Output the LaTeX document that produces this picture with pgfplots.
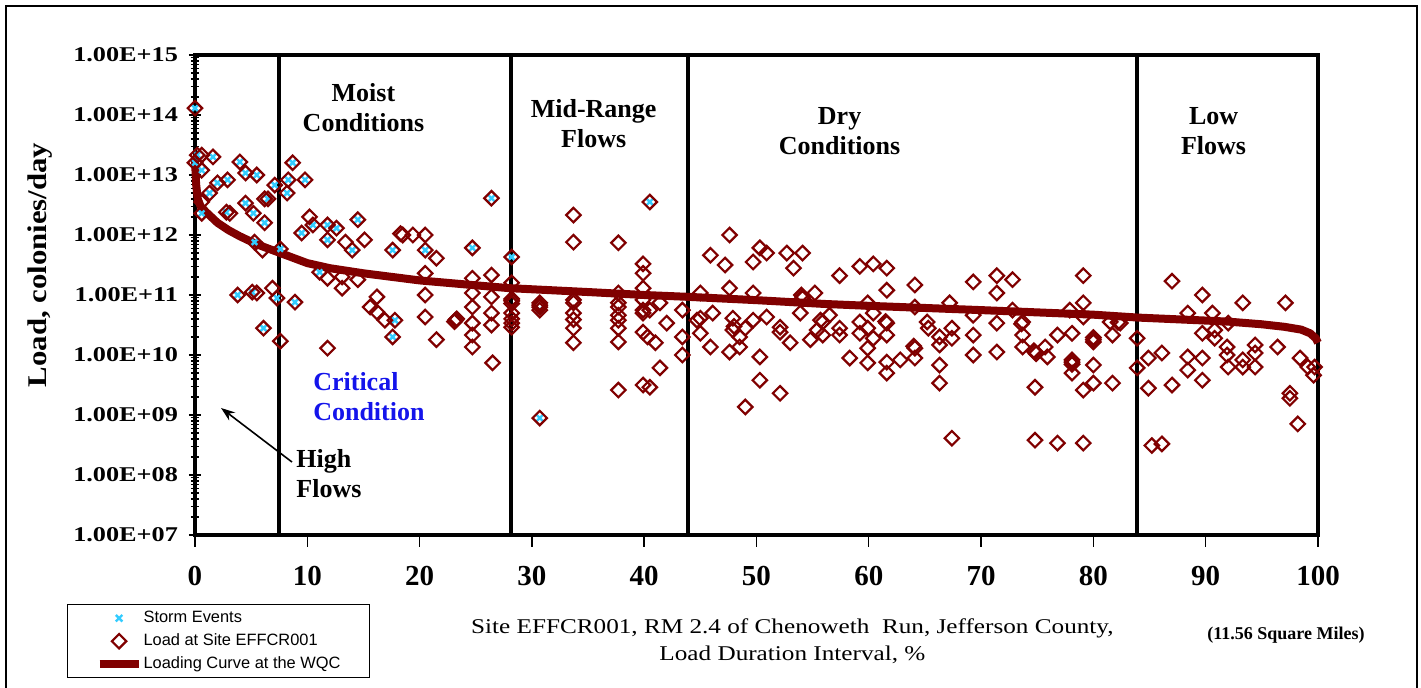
\documentclass[border=0pt]{standalone}
\usepackage{fontspec}
\setmainfont{Liberation Serif}
\newfontfamily\arialfont{Liberation Sans}
\usepackage{graphicx}
\usepackage{pgfplots}
\usepackage{pgfplotstable}
\pgfplotsset{compat=1.18}
\usetikzlibrary{arrows.meta}

\definecolor{maroon}{RGB}{128,0,0}
\definecolor{storm}{RGB}{51,204,255}
\definecolor{critblue}{RGB}{20,20,235}
\newcommand\ytl[1]{\scalebox{1.25}[1]{#1}}
\newcommand\zonefont{\fontsize{13}{15}\selectfont\bfseries}

% storm events (cyan crosses)
\pgfplotstableread{
x y
0 1.3e14
0.2 2.15e13
0 1.6e13
0.6 1.2e13
1.6 2.0e13
4.0 1.65e13
1.3 5.0e12
2.0 7.4e12
2.9 8.3e12
4.5 1.08e13
5.5 1.0e13
0.6 2.3e12
2.8 2.4e12
4.5 3.4e12
5.2 2.3e12
6.2 1.6e12
6.5 4.0e12
7.1 6.8e12
8.2 5.0e12
8.3 8.3e12
8.7 1.6e13
9.8 8.3e12
5.3 7.6e11
7.6 5.85e11
9.5 1.08e12
10.5 1.47e12
11.8 8.3e11
11.8 1.47e12
12.6 1.3e12
14.0 5.6e11
14.5 1.8e12
17.6 5.6e11
20.5 5.6e11
24.7 6.1e11
26.4 4.1e12
28.2 4.3e11
11.1 2.4e11
3.8 1.0e11
5.1 1.12e11
7.3 8.9e10
8.9 7.6e10
6.1 2.8e10
17.8 3.8e10
17.6 2.0e10
30.7 5.6e10
40.5 3.55e12
30.7 8.9e8
}\stormtbl

% load at site EFFCR001 (diamonds)
\pgfplotstableread{
x y
0 1.3e14
0.2 2.15e13
0.6 2.15e13
0 1.6e13
0.6 1.2e13
1.6 2.0e13
4.0 1.65e13
1.3 5.0e12
2.0 7.4e12
2.9 8.3e12
4.5 1.08e13
5.5 1.0e13
0.6 3.55e12
0.6 2.3e12
2.8 2.4e12
3.1 2.3e12
4.5 3.4e12
5.2 2.3e12
6.2 1.6e12
6.5 4.0e12
6.2 4.0e12
7.1 6.8e12
8.2 5.0e12
8.3 8.3e12
8.7 1.6e13
9.8 8.3e12
5.3 7.6e11
6.0 5.6e11
7.6 5.85e11
10.2 2.0e12
9.5 1.08e12
10.5 1.47e12
11.8 8.3e11
11.8 1.47e12
12.6 1.3e12
13.4 7.6e11
14.0 5.6e11
14.5 1.8e12
15.1 8.3e11
17.6 5.6e11
18.5 1.0e12
18.3 1.05e12
19.4 1.0e12
20.5 1.0e12
20.5 5.6e11
21.5 4.1e11
24.7 6.1e11
26.4 4.1e12
28.2 4.3e11
11.1 2.4e11
11.8 1.9e11
13.1 2.0e11
13.1 1.3e11
14.5 1.8e11
16.2 9.3e10
20.5 2.3e11
20.5 1.0e11
24.7 1.9e11
26.4 2.15e11
24.7 1.08e11
3.8 1.0e11
5.1 1.12e11
5.5 1.08e11
6.9 1.3e11
7.3 8.9e10
8.9 7.6e10
6.1 2.8e10
7.6 1.7e10
11.8 1.3e10
15.6 6.3e10
16.2 5.2e10
16.9 3.8e10
17.8 3.8e10
17.6 2.0e10
20.5 4.3e10
21.5 1.8e10
23.2 3.8e10
23.3 4.0e10
23.1 3.6e10
24.7 6.3e10
24.7 3.4e10
24.7 2.15e10
24.7 1.36e10
26.4 9.3e10
26.4 5.0e10
26.4 3.16e10
26.5 7.4e9
28.2 1.6e11
28.2 8.0e10
28.2 8.6e10
28.2 7.2e10
28.2 5.0e10
28.2 4.0e10
28.2 3.4e10
28.2 2.9e10
30.7 6.3e10
30.7 7.4e10
30.7 5.6e10
30.7 6.8e10
33.7 2.15e12
33.7 7.6e11
33.7 8.3e10
33.7 7.4e10
33.7 5.0e10
33.7 3.9e10
33.7 2.8e10
33.7 1.6e10
37.7 7.4e11
37.7 1.08e11
37.7 7.4e10
37.7 6.3e10
37.7 4.6e10
37.7 3.8e10
37.7 2.8e10
37.7 1.65e10
37.7 2.6e9
40.5 3.55e12
39.9 3.3e11
39.9 2.3e11
39.9 1.3e11
39.9 8.3e10
39.9 5.6e10
39.9 5.0e10
40.5 5.6e10
41.4 7.4e10
43.4 5.6e10
42.0 3.4e10
39.9 2.4e10
40.3 2.0e10
41.0 1.6e10
41.4 6.1e9
39.9 3.16e9
40.5 2.9e9
43.4 1.0e10
43.4 2.0e10
45.0 1.08e11
45.9 4.6e11
47.2 3.16e11
47.6 1.0e12
47.6 1.3e11
49.7 1.08e11
49.7 3.55e11
50.3 6.1e11
50.9 5.0e11
52.7 5.0e11
53.3 2.8e11
54.1 5.0e11
54.1 9.3e10
54.1 8.8e10
54.0 1.0e11
55.2 1.08e11
44.7 3.8e10
46.1 5.0e10
47.9 4.1e10
49.7 3.8e10
50.9 4.3e10
52.1 2.9e10
53.9 5.0e10
55.7 3.8e10
30.7 8.9e8
45.0 4.1e10
45.0 2.3e10
45.9 1.36e10
47.9 2.6e10
47.6 1.12e10
48.5 1.36e10
50.3 9.3e9
50.3 3.8e9
52.1 2.3e9
49.0 1.36e9
52.1 2.4e10
53.0 1.6e10
54.8 1.8e10
55.4 2.6e10
48.5 2.0e10
49.0 2.8e10
48.0 3.0e10
57.4 2.1e11
59.2 3.0e11
60.4 3.3e11
61.6 2.8e11
61.6 1.2e11
64.1 1.47e11
69.3 1.65e11
71.4 2.1e11
72.8 1.8e11
71.4 1.08e11
79.1 2.1e11
59.9 7.4e10
60.4 5.0e10
64.1 6.3e10
67.2 7.4e10
69.3 4.6e10
72.8 5.6e10
77.9 5.6e10
79.1 7.4e10
79.1 4.3e10
81.5 3.55e10
82.4 3.4e10
82.2 3.5e10
55.9 3.55e10
56.5 4.6e10
55.9 2.15e10
57.4 2.8e10
57.4 2.15e10
59.2 3.55e10
59.2 2.3e10
59.9 2.8e10
60.4 1.9e10
61.6 3.4e10
61.5 3.6e10
61.6 2.15e10
59.9 1.3e10
58.3 8.9e9
59.9 7.4e9
61.6 7.6e9
62.8 8.3e9
61.6 5.0e9
64.1 1.3e10
64.0 1.4e10
64.1 8.9e9
65.2 3.55e10
65.3 2.8e10
66.3 2.0e10
66.3 1.47e10
67.4 2.8e10
67.4 1.9e10
66.3 6.8e9
66.3 3.4e9
67.4 4.1e8
69.3 2.15e10
69.3 1.0e10
71.4 3.4e10
71.4 1.12e10
73.7 3.55e10
73.6 3.3e10
73.7 2.15e10
73.7 1.36e10
74.8 1.12e10
74.9 1.05e10
74.7 1.18e10
75.7 1.36e10
75.9 9.3e9
74.8 2.9e9
74.8 3.8e8
76.8 2.15e10
78.1 2.3e10
78.1 7.6e9
78.1 8.3e9
78.1 7.0e9
78.1 5.0e9
79.1 2.6e9
80.0 1.8e10
80.0 1.65e10
80.0 1.95e10
80.0 6.8e9
80.0 3.4e9
81.7 3.4e9
76.8 3.4e8
79.1 3.4e8
81.7 2.15e10
83.9 1.9e10
83.9 6.1e9
84.9 8.9e9
84.9 2.8e9
85.2 3.1e8
86.1 3.3e8
87.0 1.7e11
89.7 1.0e11
93.3 7.4e10
97.1 7.4e10
88.4 5.0e10
90.6 5.0e10
92.0 3.4e10
89.7 2.3e10
90.8 2.6e10
90.8 1.9e10
91.9 1.36e10
91.9 1.0e10
92.0 6.3e9
93.3 8.3e9
93.3 6.3e9
94.4 1.47e10
94.4 1.08e10
94.4 6.3e9
96.4 1.36e10
98.4 8.9e9
99.1 6.3e9
99.6 4.6e9
99.7 6.3e9
86.1 1.08e10
88.4 9.3e9
88.4 5.6e9
89.7 8.9e9
89.7 3.8e9
87.0 3.16e9
97.5 2.3e9
97.5 1.9e9
98.2 7.1e8
}\loadtbl

% loading curve at the WQC
\pgfplotstableread{
x y
0 1.8e13
0.1 7.0e12
0.25 4.0e12
0.5 3.0e12
1 2.4e12
2 1.6e12
3 1.2e12
4 9.5e11
5.5 7.0e11
7.6 5.0e11
10 3.4e11
12 2.8e11
15 2.3e11
20 1.75e11
25 1.45e11
28 1.3e11
35 1.12e11
40 1.0e11
44 9.3e10
50 8.2e10
56 7.1e10
60 6.6e10
70 5.6e10
80 4.7e10
84 4.2e10
90 3.75e10
92 3.6e10
95 3.25e10
97 2.95e10
98.5 2.65e10
99.3 2.3e10
99.8 1.9e10
100 1.6e10
}\curvetbl

\begin{document}
\begin{tikzpicture}
\begin{axis}[
  at={(0pt,0pt)}, anchor=south west,
  scale only axis,
  width=561.5pt, height=240pt,
  xmin=0, xmax=100,
  ymode=log, ymin=1e7, ymax=1e15,
  clip=false,
  axis line style={line width=2pt},
  xtick={0,10,20,30,40,50,60,70,80,90,100},
  xticklabels={0,10,20,30,40,50,60,70,80,90,100},
  ytick={1e7,1e8,1e9,1e10,1e11,1e12,1e13,1e14,1e15},
  yticklabels={\ytl{1.00E+07},\ytl{1.00E+08},\ytl{1.00E+09},\ytl{1.00E+10},
    \ytl{1.00E+11},\ytl{1.00E+12},\ytl{1.00E+13},\ytl{1.00E+14},\ytl{1.00E+15}},
  xtick pos=bottom, ytick pos=left,
  xtick align=outside, ytick align=center,
  major tick length=6pt, minor tick length=4pt,
  tick style={black, line width=0.7pt},
  x tick label style={font=\fontsize{14.5}{16}\selectfont\bfseries, yshift=-6pt},
  y tick label style={font=\fontsize{10.5}{12}\selectfont\bfseries, xshift=-2pt},
  legend style={at={(-0.114,-0.144)}, anchor=north west, draw=black,
    line width=0.6pt, font=\arialfont\fontsize{8.2}{9.8}\selectfont,
    inner xsep=14pt, inner ysep=1pt, row sep=0pt,
    nodes={inner xsep=0.5pt, inner ysep=1.85pt, text height=6pt, text depth=1.8pt}},
  legend cell align=left,
  legend image code/.code={
    \draw[mark repeat=2, mark phase=2, #1]
      plot coordinates {(0pt,0pt) (9.75pt,0pt) (19.5pt,0pt)};},
]
  % zone boundaries
  \addplot[black, line width=2pt, forget plot] coordinates {(7.5,1e7) (7.5,1e15)};
  \addplot[black, line width=2pt, forget plot] coordinates {(28.1,1e7) (28.1,1e15)};
  \addplot[black, line width=2pt, forget plot] coordinates {(43.9,1e7) (43.9,1e15)};
  \addplot[black, line width=2pt, forget plot] coordinates {(83.9,1e7) (83.9,1e15)};

  \addplot[only marks, mark=x, mark size=2.3pt, storm, line width=1.2pt]
    table[x=x, y=y] {\stormtbl};
  \addlegendentry{Storm Events}
  \addplot[only marks, mark=square, mark size=2.55pt, maroon, line width=1.1pt,
    mark options={rotate=45}]
    table[x=x, y=y] {\loadtbl};
  \addlegendentry{Load at Site EFFCR001}
  \addplot[maroon, line width=4pt, line join=round, mark=none]
    table[x=x, y=y] {\curvetbl};
  \addlegendentry{Loading Curve at the WQC}

  \node[font=\zonefont, align=center] at (axis description cs:0.150,0.890) {Moist\\Conditions};
  \node[font=\zonefont, align=center] at (axis description cs:0.355,0.858) {Mid-Range\\Flows};
  \node[font=\zonefont, align=center] at (axis description cs:0.574,0.842) {Dry\\Conditions};
  \node[font=\zonefont, align=center] at (axis description cs:0.907,0.842) {Low\\Flows};
  \node[font=\zonefont, align=left, anchor=west, text=critblue, inner sep=0pt]
    at (axis description cs:0.105,0.2875) {Critical\\Condition};
  \node[font=\zonefont, align=left, anchor=west, inner sep=0pt]
    at (axis description cs:0.090,0.127) {High\\Flows};
  \draw[-{Stealth[length=7pt, width=5pt]}, line width=0.8pt, black]
    (axis description cs:0.0864,0.152) -- (axis description cs:0.0232,0.2646);

  \node[rotate=90, font=\fontsize{13.5}{15}\selectfont\bfseries]
    at (axis description cs:-0.138,0.5625) {\scalebox{1.14}[1]{Load, colonies/day}};
  \node[align=center, font=\fontsize{10.5}{13.5}\selectfont]
    at (axis description cs:0.532,-0.221)
    {\scalebox{1.2}[1]{Site EFFCR001, RM 2.4 of Chenoweth\ \ Run, Jefferson County,}\\
     \scalebox{1.2}[1]{Load Duration Interval, \%}};
  \node[font=\fontsize{9}{10}\selectfont\bfseries]
    at (axis description cs:0.9715,-0.2083) {(11.56 Square Miles)};
\end{axis}
\draw[line width=0.75pt] (-94.5pt,-90pt) rectangle (611pt,264.5pt);
\pgfresetboundingbox
\path[use as bounding box] (-97.5pt,-76pt) rectangle (613pt,267.5pt);
\end{tikzpicture}
\end{document}
